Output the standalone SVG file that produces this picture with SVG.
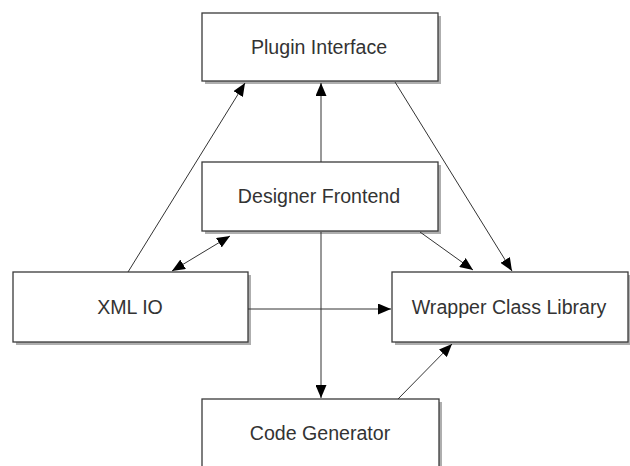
<svg xmlns="http://www.w3.org/2000/svg" width="630" height="466" viewBox="0 0 630 466">
<style>
.shadow{fill:#9a9a9a;stroke:none;opacity:0.8}
.box{fill:#fff;stroke:#3a3a3a;stroke-width:1.3}
.lbl{font-family:"Liberation Sans",Arial,sans-serif;font-size:19.6px;fill:#333;text-anchor:middle}
.edge{stroke:#333;stroke-width:1;fill:none;marker-end:url(#ah)}
</style>
<defs>
<marker id="ah" markerUnits="userSpaceOnUse" markerWidth="14" markerHeight="11" refX="13" refY="5.5" orient="auto-start-reverse">
<path d="M0,0 L13,5.5 L0,11 z" fill="#000"/>
</marker>
</defs>
<g id="plugin-interface">
<rect class="shadow" x="205" y="16" width="236" height="68"/>
<rect class="box" x="202" y="13" width="236" height="68"/>
<text class="lbl" x="319" y="54">Plugin Interface</text>
</g>
<g id="designer-frontend">
<rect class="shadow" x="205" y="165" width="236" height="69"/>
<rect class="box" x="202" y="162" width="236" height="69"/>
<text class="lbl" x="319" y="203">Designer Frontend</text>
</g>
<g id="xml-io">
<rect class="shadow" x="16" y="275" width="235" height="70"/>
<rect class="box" x="13" y="272" width="235" height="70"/>
<text class="lbl" x="130" y="314">XML IO</text>
</g>
<g id="wrapper-class-library">
<rect class="shadow" x="395" y="275" width="236" height="70"/>
<rect class="box" x="392" y="272" width="236" height="70"/>
<text class="lbl" x="509" y="314">Wrapper Class Library</text>
</g>
<g id="code-generator">
<rect class="shadow" x="205" y="402" width="237" height="70"/>
<rect class="box" x="202" y="399" width="237" height="70"/>
<text class="lbl" x="320" y="440">Code Generator</text>
</g>
<g id="connectors">
<path class="edge" d="M128,272 L245,83"/>
<path class="edge" d="M321,162 L321,83"/>
<path class="edge" d="M395,82 L512,271"/>
<path class="edge" d="M420,232 L473,270"/>
<path class="edge" style="marker-start:url(#ah)" d="M172,271 L230,236"/>
<path class="edge" d="M248,309 L391,309"/>
<path class="edge" d="M321,232 L321,398"/>
<path class="edge" d="M398,399 L452,344"/>
</g>
</svg>
